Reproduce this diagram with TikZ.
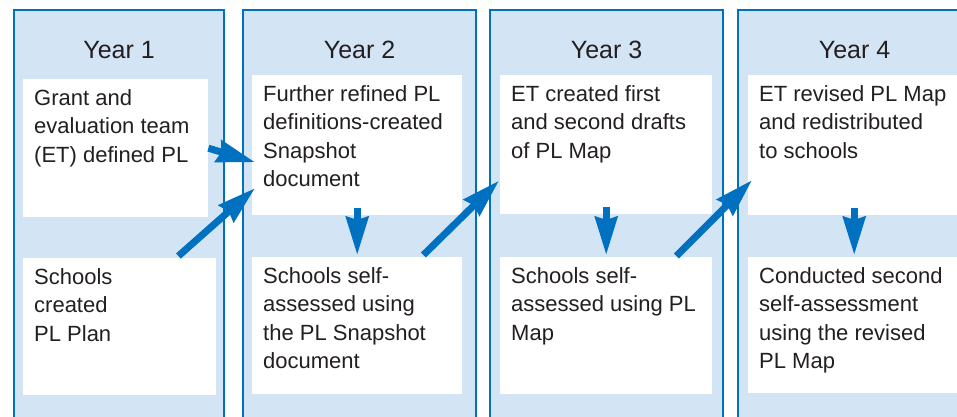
\documentclass[tikz,border=0pt]{standalone}
\usepackage{fontspec}
\setmainfont{Liberation Sans}
\usetikzlibrary{arrows.meta, positioning, calc}

\definecolor{yearblue}{RGB}{0,112,192}
\definecolor{yearfill}{RGB}{211,228,244}
\definecolor{inkgray}{RGB}{35,31,32}

\begin{document}
\begin{tikzpicture}
[
    x=1pt, y=-1pt,
]

\tikzstyle{yearcol}=[rectangle, draw=yearblue, line width=2.2pt, fill=yearfill, anchor=north west, inner sep=0pt, minimum height=440pt]
\tikzstyle{yearlbl}=[font=\fontsize{25}{29}\selectfont, text=inkgray]
\tikzstyle{panel}=[rectangle, fill=white, anchor=north west, inner sep=0pt]
\tikzstyle{paneltxt}=[anchor=north west, align=left, inner xsep=11pt, inner ysep=10pt, font=\fontsize{22}{28.5}\selectfont, text=inkgray]
\tikzstyle{bigarrow}=[draw=yearblue, line width=7pt, -{Stealth[length=38pt, width=22pt, inset=3pt]}]

\useasboundingbox (0,0) rectangle (957,417);
\clip (0,0) rectangle (957,417);

% the four years
\node [yearcol, minimum width=210pt] (col1) at (13,9) {};
\node [yearcol, minimum width=233pt] (col2) at (242,9) {};
\node [yearcol, minimum width=233pt] (col3) at (489,9) {};
\node [yearcol, minimum width=233pt] (col4) at (737,9) {};

\node [yearlbl] (y1) at ($(col1.north)+(0,41)$) {Year 1};
\node [yearlbl] (y2) at ($(col2.north)+(0,41)$) {Year 2};
\node [yearlbl] (y3) at ($(col3.north)+(0,41)$) {Year 3};
\node [yearlbl] (y4) at ($(col4.north)+(0,41)$) {Year 4};

% upper panels
\node [panel, minimum width=185pt, minimum height=138pt,
    label={[paneltxt]north west:{Grant and\\evaluation team\\(ET) defined PL}}] (p1a) at (23,79) {};
\node [panel, minimum width=210pt, minimum height=140pt,
    label={[paneltxt]north west:{Further refined PL\\definitions-created\\Snapshot\\document}}] (p2a) at (252,75) {};
\node [panel, minimum width=212pt, minimum height=139pt,
    label={[paneltxt]north west:{ET created first\\and second drafts\\of PL Map}}] (p3a) at (500,75) {};
\node [panel, minimum width=212pt, minimum height=140pt,
    label={[paneltxt]north west:{ET revised PL Map\\and redistributed\\to schools}}] (p4a) at (748,75) {};

% lower panels
\node [panel, minimum width=193pt, minimum height=137pt,
    label={[paneltxt]north west:{Schools\\created\\PL Plan}}] (p1b) at (23,258) {};
\node [panel, minimum width=210pt, minimum height=137pt,
    label={[paneltxt]north west:{Schools self-\\assessed using\\the PL Snapshot\\document}}] (p2b) at (252,257) {};
\node [panel, minimum width=212pt, minimum height=137pt,
    label={[paneltxt]north west:{Schools self-\\assessed using PL\\Map}}] (p3b) at (500,257) {};
\node [panel, minimum width=212pt, minimum height=136pt,
    label={[paneltxt]north west:{Conducted second\\self-assessment\\using the revised\\PL Map}}] (p4b) at (748,257) {};

% arrow ends
\coordinate (t1) at ($(p2a.west)+(3,17)$);
\coordinate (s2) at ($(p1b.north east)+(-38,-2)$);
\coordinate (t2) at ($(p2a.west)+(3,43)$);
\coordinate (s3) at ($(p2b.north east)+(-39,-2)$);
\coordinate (t3) at ($(p3a.west)+(-1,36)$);
\coordinate (s4) at ($(p3b.north east)+(-36,-1)$);
\coordinate (t4) at ($(p4a.west)+(4,35)$);

\draw [bigarrow] (p1a.east) -- (t1);
\draw [bigarrow] (s2) -- (t2);
\draw [bigarrow] (s3) -- (t3);
\draw [bigarrow] (s4) -- (t4);

\draw [bigarrow, shorten <=-7pt, shorten >=2pt] (p2a.south) -- (p2b.north);
\draw [bigarrow, shorten <=-7pt, shorten >=2pt] (p3a.south) -- (p3b.north);
\draw [bigarrow, shorten <=-7pt, shorten >=2pt] (p4a.south) -- (p4b.north);
\end{tikzpicture}
\end{document}
